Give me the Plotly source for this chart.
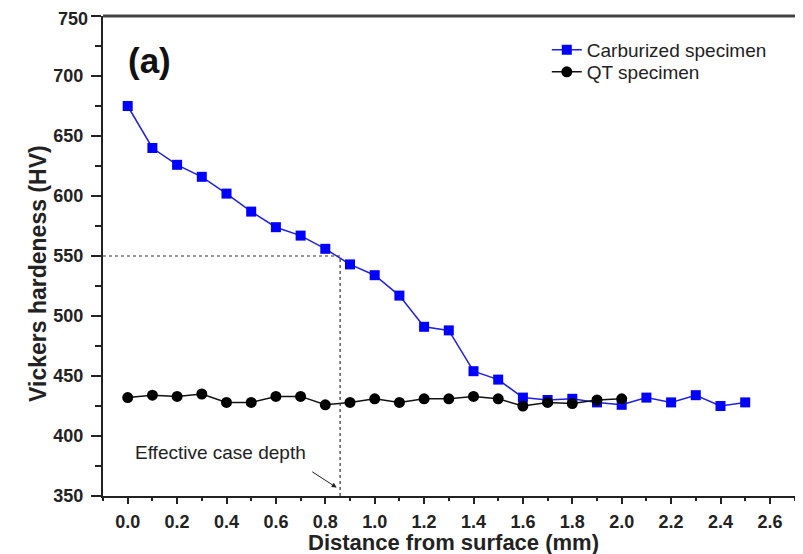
import plotly.graph_objects as go

distance_carb = [0.0, 0.1, 0.2, 0.3, 0.4, 0.5, 0.6, 0.7, 0.8, 0.9, 1.0, 1.1, 1.2, 1.3,
                 1.4, 1.5, 1.6, 1.7, 1.8, 1.9, 2.0, 2.1, 2.2, 2.3, 2.4, 2.5]
hv_carb = [675, 640, 626, 616, 602, 587, 574, 567, 556, 543, 534, 517, 491, 488,
           454, 447, 432, 430, 431, 428, 426, 432, 428, 434, 425, 428]

distance_qt = [0.0, 0.1, 0.2, 0.3, 0.4, 0.5, 0.6, 0.7, 0.8, 0.9, 1.0, 1.1, 1.2, 1.3,
               1.4, 1.5, 1.6, 1.7, 1.8, 1.9, 2.0]
hv_qt = [432, 434, 433, 435, 428, 428, 433, 433, 426, 428, 431, 428, 431, 431,
         433, 431, 425, 428, 427, 430, 431]

case_depth = 0.86
case_hv = 550
x_tickvals = [0.0, 0.2, 0.4, 0.6, 0.8, 1.0, 1.2, 1.4, 1.6, 1.8, 2.0, 2.2, 2.4, 2.6]
y_tickvals = [350, 400, 450, 500, 550, 600, 650, 700, 750]

FONT = "Liberation Sans, Arial, sans-serif"

fig = go.Figure()
fig.add_trace(go.Scatter(
    x=distance_carb, y=hv_carb, mode="lines+markers", name="Carburized specimen",
    line=dict(color="#2020e0", width=1.5), legend="legend",
    marker=dict(symbol="square", size=10, color="#0000ff", line=dict(width=0)),
))
fig.add_trace(go.Scatter(
    x=distance_qt, y=hv_qt, mode="lines+markers", name="QT specimen",
    line=dict(color="#111111", width=1.5), legend="legend2",
    marker=dict(symbol="circle", size=11, color="#000000"),
))

# dotted guide lines
fig.add_trace(go.Scatter(
    x=[-0.1, case_depth, case_depth], y=[case_hv, case_hv, 350], mode="lines",
    line=dict(color="#333333", width=1.2, dash="dot"), showlegend=False, hoverinfo="skip",
))

fig.add_annotation(x=0.377, y=386, text="Effective case depth", showarrow=False,
                   font=dict(family=FONT, size=19, color="#222222"))
fig.add_annotation(x=0.846, y=357, ax=0.741, ay=371, xref="x", yref="y", axref="x", ayref="y",
                   text="", showarrow=True, arrowhead=2, arrowsize=1, arrowwidth=1,
                   arrowcolor="#222222")
fig.add_annotation(x=0.09, y=713, text="<b>(a)</b>", showarrow=False,
                   font=dict(family=FONT, size=35, color="#111111"))

# axis titles
fig.add_annotation(x=0.5, y=-0.096, xref="paper", yref="paper", showarrow=False,
                   text="<b>Distance from surface (mm)</b>", xanchor="center", yanchor="middle",
                   font=dict(family=FONT, size=22, color="#222222"))
fig.add_annotation(x=-0.093, y=1 - (273 - 16) / 480, xref="paper", yref="paper", showarrow=False,
                   text="<b>Vickers hardeness (HV)</b>", textangle=-90,
                   xanchor="center", yanchor="middle",
                   font=dict(family=FONT, size=23, color="#222222"))

# top tick label drawn as annotation so it stays inside the page
top_label = y_tickvals[-1]
fig.add_annotation(x=0, y=top_label, xref="paper", yref="y", showarrow=False,
                   text=f"<b>{top_label}</b>", xanchor="right", yanchor="middle",
                   xshift=-13, yshift=-3, font=dict(family=FONT, size=18, color="#222222"))

# top frame line
fig.add_shape(type="line", xref="paper", yref="paper", x0=0, x1=1, y0=1, y1=1,
              line=dict(color="#444444", width=3))

legend_common = dict(xanchor="left", yanchor="middle", bgcolor="rgba(0,0,0,0)",
                     font=dict(size=19, family=FONT, color="#222222"), itemwidth=30)
fig.update_layout(
    width=795, height=546,
    margin=dict(l=95, r=0, t=8, b=58, autoexpand=False),
    plot_bgcolor="white", paper_bgcolor="white",
    font=dict(family=FONT, color="#222222"),
    legend=dict(x=0.634, y=1 - (50 - 16) / 480, **legend_common),
    legend2=dict(x=0.634, y=1 - (72 - 16) / 480, **legend_common),
    showlegend=True,
)
fig.update_xaxes(
    range=[-0.1, 2.734], tickvals=x_tickvals, ticktext=[f"<b>{v:.1f}</b>" for v in x_tickvals],
    showgrid=False, zeroline=False, showline=True, linecolor="#222222", linewidth=2,
    ticks="outside", ticklen=6, tickwidth=1.5, tickcolor="#222222",
    minor=dict(dtick=0.1, tick0=0, ticks="outside", ticklen=3, tickwidth=1.5, tickcolor="#222222"),
    tickfont=dict(size=18, family=FONT, color="#222222"), automargin=False,
    ticklabelstandoff=2,
)
fig.update_yaxes(
    range=[350, 750], tickvals=y_tickvals,
    ticktext=[f"<b>{v}</b>" if v != top_label else "" for v in y_tickvals],
    showgrid=False, zeroline=False, showline=True, linecolor="#222222", linewidth=2,
    ticks="outside", ticklen=10, tickwidth=1.5, tickcolor="#222222",
    minor=dict(dtick=25, tick0=350, ticks="outside", ticklen=6, tickwidth=1.5, tickcolor="#222222"),
    tickfont=dict(size=18, family=FONT, color="#222222"), automargin=False,
    ticklabelstandoff=4,
)

fig.write_html("out.html")
